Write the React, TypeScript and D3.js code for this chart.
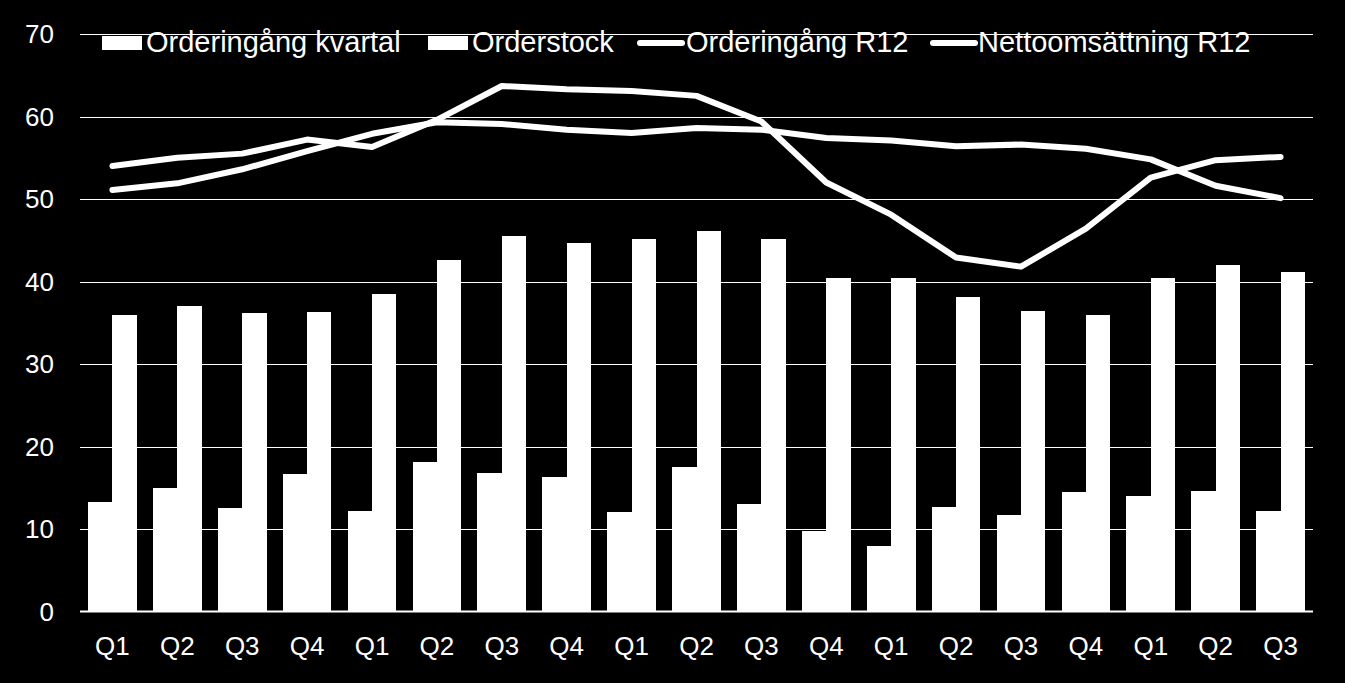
import React from "react";
import * as d3 from "d3";

const categories = ["Q1","Q2","Q3","Q4","Q1","Q2","Q3","Q4","Q1","Q2","Q3","Q4","Q1","Q2","Q3","Q4","Q1","Q2","Q3"];
const orderingangKvartal = [13.3,15.0,12.5,16.7,12.2,18.1,16.8,16.3,12.1,17.5,13.0,9.8,7.9,12.7,11.7,14.5,14.0,14.6,12.2];
const orderstock = [35.9,37.0,36.2,36.3,38.5,42.6,45.5,44.7,45.2,46.1,45.1,40.4,40.4,38.1,36.4,35.9,40.4,42.0,41.1];
const orderingangR12 = [54.0,55.0,55.5,57.2,56.3,59.6,63.7,63.3,63.1,62.5,59.4,52.0,48.1,42.9,41.8,46.4,52.6,54.7,55.1];
const nettoomsattningR12 = [51.1,51.9,53.6,55.8,57.9,59.3,59.1,58.4,58.0,58.6,58.4,57.4,57.1,56.4,56.6,56.1,54.8,51.6,50.1];
const yTicks = [0,10,20,30,40,50,60,70];
const legendLabels = ["Orderingång kvartal","Orderstock","Orderingång R12","Nettoomsättning R12"];

const W = 1345, H = 683;
const FONT = "Liberation Sans, Arial, sans-serif";

export default function App() {
  const idx = categories.map((_, i) => i);
  const x = d3.scaleBand<number>().domain(idx).range([80, 1313]).paddingInner(0.25).paddingOuter(0.125);
  const x1 = d3.scaleBand<string>().domain(["k","s"]).range([0, x.bandwidth()]).padding(0);
  const y = d3.scaleLinear().domain([0, 70]).range([611.5, 34]);
  const cx = (i: number) => (x(i) as number) + x.bandwidth() / 2;
  const line = d3.line<number>().x((_, i) => cx(i)).y(d => y(d));

  const legendItems = [
    { type: "rect", x0: 102, tx: 146, label: legendLabels[0] },
    { type: "rect", x0: 428, tx: 472, label: legendLabels[1] },
    { type: "line", x0: 640, tx: 686, label: legendLabels[2] },
    { type: "line", x0: 933, tx: 978, label: legendLabels[3] },
  ];

  return (
    <svg width={W} height={H} style={{ position: "absolute", left: 0, top: 0, display: "block" }} fontFamily={FONT}>
      <rect x={0} y={0} width={W} height={H} fill="#000" />
      {yTicks.filter(t => t > 0).map(t => (
        <line key={t} x1={80} x2={1313} y1={Math.round(y(t)) + 0.5} y2={Math.round(y(t)) + 0.5} stroke="#fff" strokeWidth={1} />
      ))}
      {yTicks.map(t => (
        <text key={"l" + t} x={54} y={y(t)} dy="0.36em" textAnchor="end" fill="#fff" fontSize={26}>{t}</text>
      ))}
      <g shapeRendering="crispEdges">
        {idx.map(i => (
          <g key={"b" + i}>
            <rect x={(x(i) as number) + (x1("k") as number)} y={y(orderingangKvartal[i])} width={x1.bandwidth() + 0.5} height={y(0) - y(orderingangKvartal[i])} fill="#fff" />
            <rect x={(x(i) as number) + (x1("s") as number)} y={y(orderstock[i])} width={x1.bandwidth()} height={y(0) - y(orderstock[i])} fill="#fff" />
          </g>
        ))}
      </g>
      <line x1={80} x2={1313} y1={y(0)} y2={y(0)} stroke="#fff" strokeWidth={2} />
      {idx.map(i => (
        <text key={"x" + i} x={cx(i)} y={655} textAnchor="middle" fill="#fff" fontSize={26}>{categories[i]}</text>
      ))}
      <path d={line(nettoomsattningR12) || ""} fill="none" stroke="#fff" strokeWidth={6} strokeLinecap="round" strokeLinejoin="round" />
      <path d={line(orderingangR12) || ""} fill="none" stroke="#fff" strokeWidth={6} strokeLinecap="round" strokeLinejoin="round" />
      {legendItems.map((it, k) => (
        <g key={"lg" + k}>
          {it.type === "rect"
            ? <rect x={it.x0} y={36} width={40} height={14} fill="#fff" />
            : <line x1={it.x0} x2={it.x0 + 42} y1={43} y2={43} stroke="#fff" strokeWidth={6} strokeLinecap="round" />}
          <text x={it.tx} y={52} fill="#fff" fontSize={29}>{it.label}</text>
        </g>
      ))}
    </svg>
  );
}
